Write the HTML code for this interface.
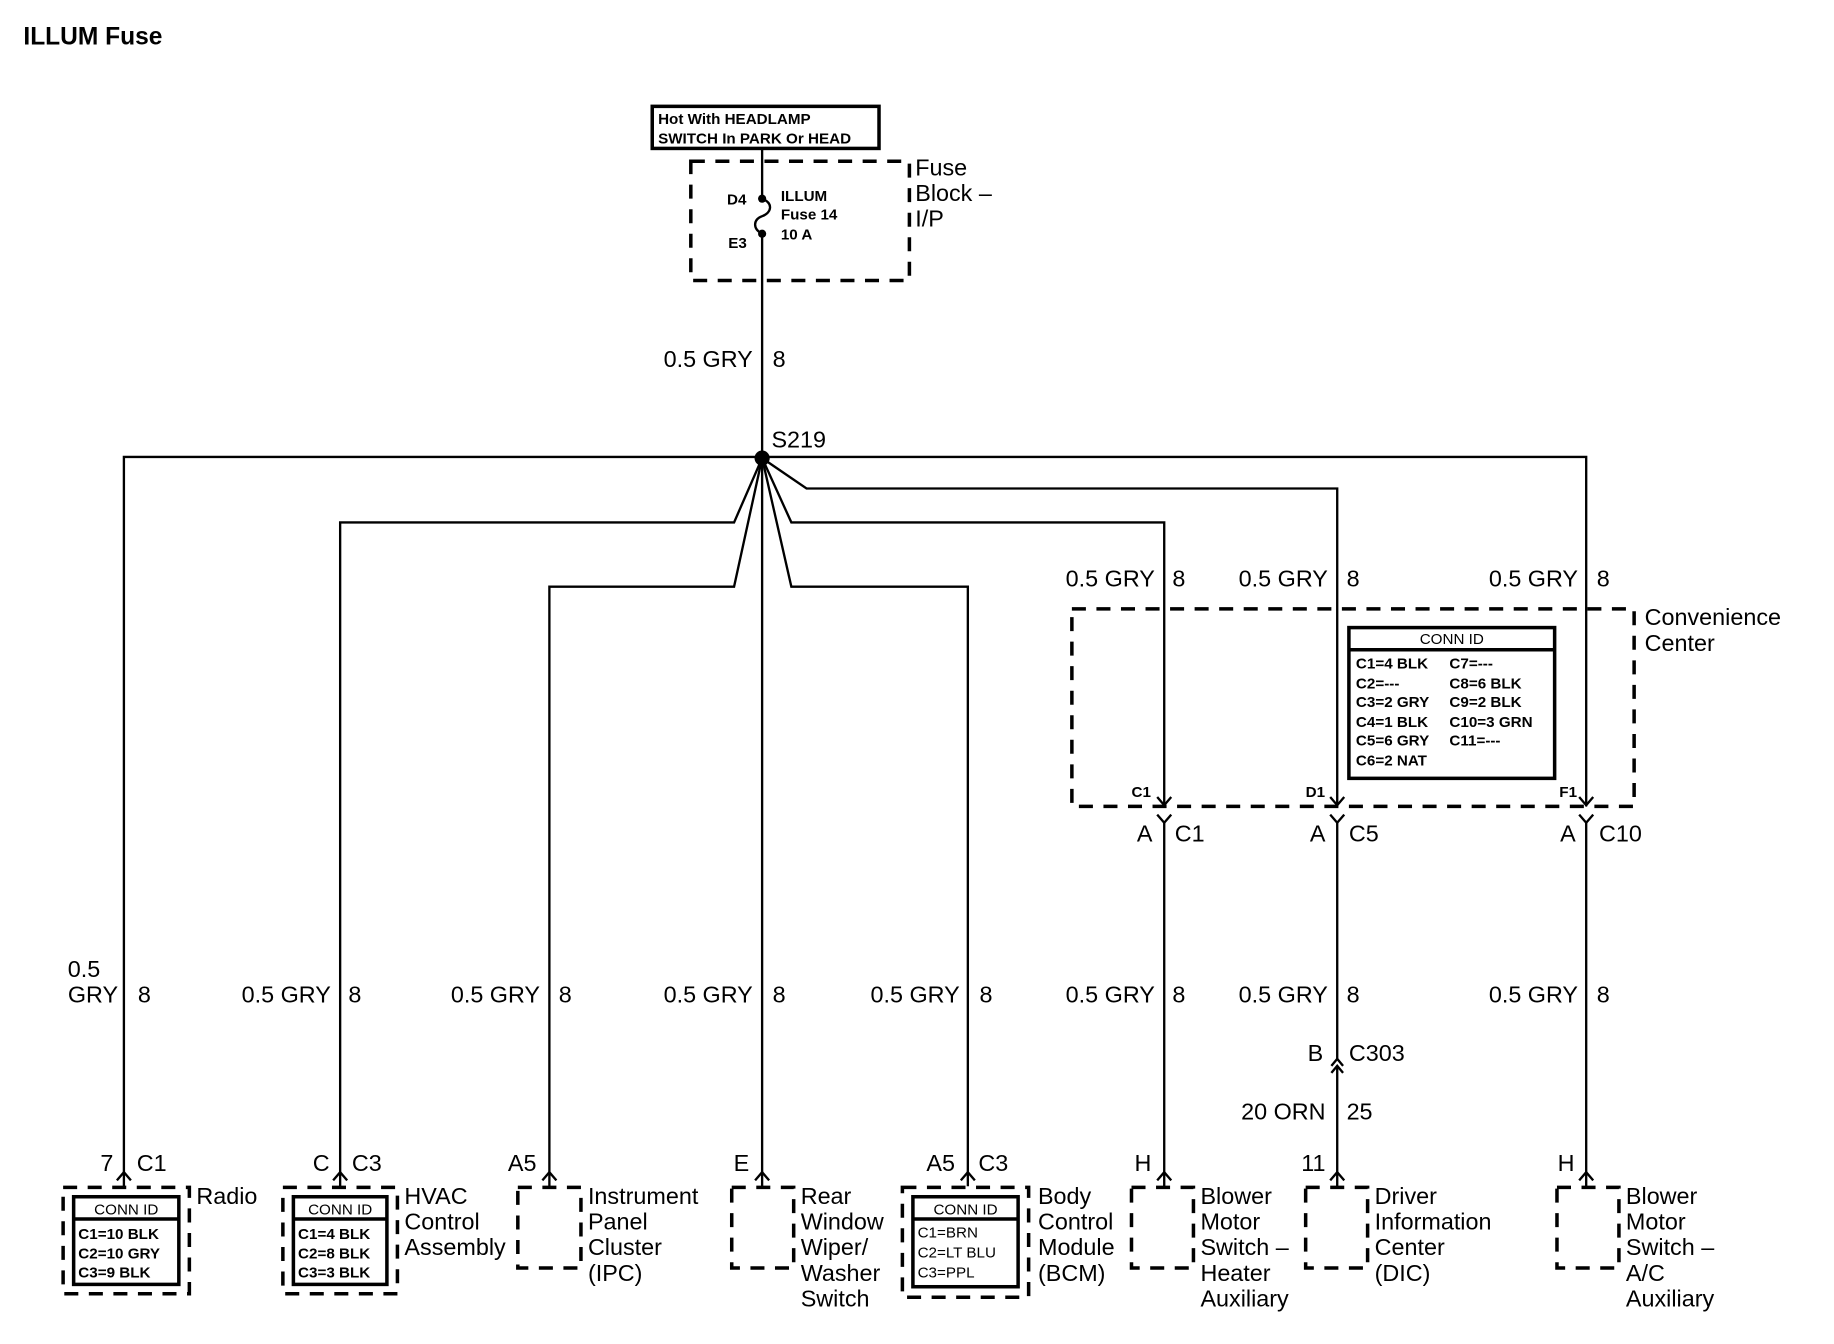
<!DOCTYPE html>
<html><head><meta charset="utf-8"><style>
html,body{margin:0;padding:0;background:#fff}
svg{display:block}
text{font-family:"Liberation Sans",Arial,sans-serif;fill:#000}
.l{font-size:20px}
.s{font-size:13px;font-weight:bold}
.w{stroke:#000;stroke-width:2;fill:none}
.d{stroke:#000;stroke-width:3;fill:none;stroke-dasharray:12 9}
.b{stroke:#000;stroke-width:3;fill:none}
</style></head><body>
<svg width="1834" height="1344" viewBox="0 0 1569 1150" preserveAspectRatio="none" xmlns="http://www.w3.org/2000/svg">
<text x="20" y="38" style="font-size:21px;font-weight:bold">ILLUM Fuse</text>

<rect x="558" y="91" width="194" height="36" class="b"/>
<text x="563" y="106" class="s">Hot With HEADLAMP</text>
<text x="563" y="123" class="s">SWITCH In PARK Or HEAD</text>

<rect x="591" y="138" width="187" height="102" class="d"/>
<text x="783" y="150" class="l">Fuse</text>
<text x="783" y="172" class="l">Block –</text>
<text x="783" y="194" class="l">I/P</text>
<line x1="652" y1="128" x2="652" y2="170" class="w"/>
<path d="M652 170 C662 174,660 182,652 185 C644 188,644 196,652 200" class="w"/>
<circle cx="652" cy="170" r="3.5"/><circle cx="652" cy="200" r="3.5"/>
<text x="622" y="175" class="s">D4</text>
<text x="623" y="212" class="s">E3</text>
<text x="668" y="172" class="s">ILLUM</text>
<text x="668" y="188" class="s">Fuse 14</text>
<text x="668" y="205" class="s">10 A</text>
<line x1="652" y1="200" x2="652" y2="1015" class="w"/>
<text x="644" y="314" class="l" text-anchor="end">0.5 GRY</text>
<text x="661" y="314" class="l">8</text>
<text x="660" y="383" class="l">S219</text>
<circle cx="652" cy="392" r="6.5"/>

<polyline points="106,1015 106,391 1357,391 1357,690" class="w"/>
<polyline points="652,392 628,447 291,447 291,1015" class="w"/>
<polyline points="652,392 628,502 470,502 470,1015" class="w"/>
<polyline points="652,392 677,502 828,502 828,1015" class="w"/>
<polyline points="652,392 690,418 1144,418 1144,690" class="w"/>
<polyline points="652,392 677,447 996,447 996,690" class="w"/>

<text x="988" y="502" class="l" text-anchor="end">0.5 GRY</text><text x="1003" y="502" class="l">8</text>
<text x="1136" y="502" class="l" text-anchor="end">0.5 GRY</text><text x="1152" y="502" class="l">8</text>
<text x="1350" y="502" class="l" text-anchor="end">0.5 GRY</text><text x="1366" y="502" class="l">8</text>

<rect x="917" y="521" width="481" height="169" class="d"/>
<text x="1407" y="535" class="l">Convenience</text>
<text x="1407" y="557" class="l">Center</text>
<rect x="1154" y="537" width="176" height="129" class="b"/>
<line x1="1154" y1="556" x2="1330" y2="556" class="b"/>
<text x="1242" y="551" class="s" text-anchor="middle" style="font-weight:normal">CONN ID</text>
<text x="1160" y="572" class="s">C1=4 BLK</text><text x="1240" y="572" class="s">C7=---</text>
<text x="1160" y="589" class="s">C2=---</text><text x="1240" y="589" class="s">C8=6 BLK</text>
<text x="1160" y="605" class="s">C3=2 GRY</text><text x="1240" y="605" class="s">C9=2 BLK</text>
<text x="1160" y="622" class="s">C4=1 BLK</text><text x="1240" y="622" class="s">C10=3 GRN</text>
<text x="1160" y="638" class="s">C5=6 GRY</text><text x="1240" y="638" class="s">C11=---</text>
<text x="1160" y="655" class="s">C6=2 NAT</text>
<text x="968" y="682" class="s">C1</text>
<text x="1117" y="682" class="s">D1</text>
<text x="1334" y="682" class="s">F1</text>
<polyline points="990,682 996,689 1002,682" class="w"/>
<polyline points="1138,682 1144,689 1150,682" class="w"/>
<polyline points="1351,682 1357,689 1363,682" class="w"/>
<polyline points="990,697 996,704 1002,697" class="w"/><line x1="996" y1="704" x2="996" y2="1015" class="w"/>
<polyline points="1138,697 1144,704 1150,697" class="w"/><line x1="1144" y1="704" x2="1144" y2="906" class="w"/>
<polyline points="1351,697 1357,704 1363,697" class="w"/><line x1="1357" y1="704" x2="1357" y2="1015" class="w"/>
<text x="986" y="720" class="l" text-anchor="end">A</text><text x="1005" y="720" class="l">C1</text>
<text x="1134" y="720" class="l" text-anchor="end">A</text><text x="1154" y="720" class="l">C5</text>
<text x="1348" y="720" class="l" text-anchor="end">A</text><text x="1368" y="720" class="l">C10</text>

<text x="58" y="836" class="l">0.5</text>
<text x="101" y="858" class="l" text-anchor="end">GRY</text><text x="118" y="858" class="l">8</text>
<text x="283" y="858" class="l" text-anchor="end">0.5 GRY</text><text x="298" y="858" class="l">8</text>
<text x="462" y="858" class="l" text-anchor="end">0.5 GRY</text><text x="478" y="858" class="l">8</text>
<text x="644" y="858" class="l" text-anchor="end">0.5 GRY</text><text x="661" y="858" class="l">8</text>
<text x="821" y="858" class="l" text-anchor="end">0.5 GRY</text><text x="838" y="858" class="l">8</text>
<text x="988" y="858" class="l" text-anchor="end">0.5 GRY</text><text x="1003" y="858" class="l">8</text>
<text x="1136" y="858" class="l" text-anchor="end">0.5 GRY</text><text x="1152" y="858" class="l">8</text>
<text x="1350" y="858" class="l" text-anchor="end">0.5 GRY</text><text x="1366" y="858" class="l">8</text>

<polyline points="1139,912 1144,906 1149,912" class="w"/>
<polyline points="1139,918 1144,912 1149,918" class="w"/>
<line x1="1144" y1="912" x2="1144" y2="1015" class="w"/>
<text x="1132" y="908" class="l" text-anchor="end">B</text><text x="1154" y="908" class="l">C303</text>
<text x="1134" y="958" class="l" text-anchor="end">20 ORN</text><text x="1152" y="958" class="l">25</text>

<polyline points="100,1010 106,1003 112,1010" class="w"/>
<polyline points="285,1010 291,1003 297,1010" class="w"/>
<polyline points="464,1010 470,1003 476,1010" class="w"/>
<polyline points="646,1010 652,1003 658,1010" class="w"/>
<polyline points="822,1010 828,1003 834,1010" class="w"/>
<polyline points="990,1010 996,1003 1002,1010" class="w"/>
<polyline points="1138,1010 1144,1003 1150,1010" class="w"/>
<polyline points="1351,1010 1357,1003 1363,1010" class="w"/>
<text x="97" y="1002" class="l" text-anchor="end">7</text><text x="117" y="1002" class="l">C1</text>
<text x="282" y="1002" class="l" text-anchor="end">C</text><text x="301" y="1002" class="l">C3</text>
<text x="459" y="1002" class="l" text-anchor="end">A5</text>
<text x="641" y="1002" class="l" text-anchor="end">E</text>
<text x="817" y="1002" class="l" text-anchor="end">A5</text><text x="837" y="1002" class="l">C3</text>
<text x="985" y="1002" class="l" text-anchor="end">H</text>
<text x="1134" y="1002" class="l" text-anchor="end">11</text>
<text x="1347" y="1002" class="l" text-anchor="end">H</text>

<rect x="54" y="1016" width="108" height="91" class="d"/>
<rect x="63" y="1024" width="90" height="75" class="b"/>
<line x1="63" y1="1043" x2="153" y2="1043" class="b"/>
<text x="108" y="1039" class="s" text-anchor="middle" style="font-weight:normal">CONN ID</text>
<text x="67" y="1060" class="s">C1=10 BLK</text>
<text x="67" y="1077" class="s">C2=10 GRY</text>
<text x="67" y="1093" class="s">C3=9 BLK</text>
<text x="168" y="1030" class="l">Radio</text>

<rect x="242" y="1016" width="98" height="91" class="d"/>
<rect x="251" y="1024" width="80" height="75" class="b"/>
<line x1="251" y1="1043" x2="331" y2="1043" class="b"/>
<text x="291" y="1039" class="s" text-anchor="middle" style="font-weight:normal">CONN ID</text>
<text x="255" y="1060" class="s">C1=4 BLK</text>
<text x="255" y="1077" class="s">C2=8 BLK</text>
<text x="255" y="1093" class="s">C3=3 BLK</text>
<text x="346" y="1030" class="l">HVAC</text>
<text x="346" y="1052" class="l">Control</text>
<text x="346" y="1074" class="l">Assembly</text>

<rect x="443" y="1016" width="54" height="69" class="d"/>
<text x="503" y="1030" class="l">Instrument</text>
<text x="503" y="1052" class="l">Panel</text>
<text x="503" y="1074" class="l">Cluster</text>
<text x="503" y="1096" class="l">(IPC)</text>

<rect x="626" y="1016" width="53" height="69" class="d"/>
<text x="685" y="1030" class="l">Rear</text>
<text x="685" y="1052" class="l">Window</text>
<text x="685" y="1074" class="l">Wiper/</text>
<text x="685" y="1096" class="l">Washer</text>
<text x="685" y="1118" class="l">Switch</text>

<rect x="772" y="1016" width="108" height="94" class="d"/>
<rect x="781" y="1024" width="90" height="77" class="b"/>
<line x1="781" y1="1043" x2="871" y2="1043" class="b"/>
<text x="826" y="1039" class="s" text-anchor="middle" style="font-weight:normal">CONN ID</text>
<text x="785" y="1059" class="s" style="font-weight:normal">C1=BRN</text>
<text x="785" y="1076" class="s" style="font-weight:normal">C2=LT BLU</text>
<text x="785" y="1093" class="s" style="font-weight:normal">C3=PPL</text>
<text x="888" y="1030" class="l">Body</text>
<text x="888" y="1052" class="l">Control</text>
<text x="888" y="1074" class="l">Module</text>
<text x="888" y="1096" class="l">(BCM)</text>

<rect x="968" y="1016" width="53" height="69" class="d"/>
<text x="1027" y="1030" class="l">Blower</text>
<text x="1027" y="1052" class="l">Motor</text>
<text x="1027" y="1074" class="l">Switch –</text>
<text x="1027" y="1096" class="l">Heater</text>
<text x="1027" y="1118" class="l">Auxiliary</text>

<rect x="1117" y="1016" width="53" height="69" class="d"/>
<text x="1176" y="1030" class="l">Driver</text>
<text x="1176" y="1052" class="l">Information</text>
<text x="1176" y="1074" class="l">Center</text>
<text x="1176" y="1096" class="l">(DIC)</text>

<rect x="1332" y="1016" width="53" height="69" class="d"/>
<text x="1391" y="1030" class="l">Blower</text>
<text x="1391" y="1052" class="l">Motor</text>
<text x="1391" y="1074" class="l">Switch –</text>
<text x="1391" y="1096" class="l">A/C</text>
<text x="1391" y="1118" class="l">Auxiliary</text>
</svg>
</body></html>
